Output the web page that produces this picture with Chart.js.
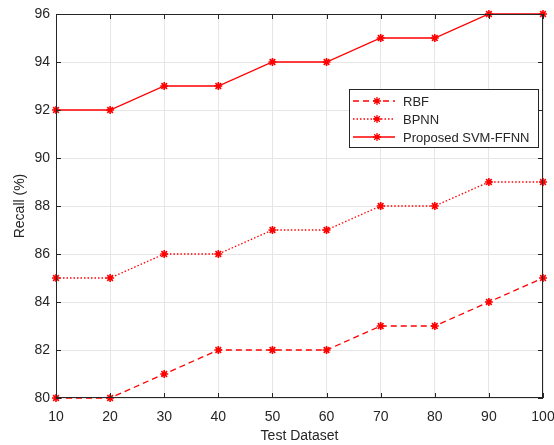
<!DOCTYPE html>
<html>
<head>
<meta charset="utf-8">
<script src="https://cdn.jsdelivr.net/npm/chart.js@4"></script>
<style>
html,body{margin:0;padding:0;background:#fff;}
#wrap{width:554px;height:445px;}
</style>
</head>
<body>
<div id="wrap"><canvas id="c" width="554" height="445"></canvas></div>
<script>
const testDataset = [10, 20, 30, 40, 50, 60, 70, 80, 90, 100];
const rbf = [80, 80, 81, 82, 82, 82, 83, 83, 84, 85];
const bpnn = [85, 85, 86, 86, 87, 87, 88, 88, 89, 89];
const proposed = [92, 92, 93, 93, 94, 94, 95, 95, 96, 96];
const seriesNames = ['RBF', 'BPNN', 'Proposed SVM-FFNN'];
const xTitle = 'Test Dataset';
const yTitle = 'Recall (%)';

const FONT = 'Arial, "Liberation Sans", Helvetica, sans-serif';
const RED = '#ff0000';
const AXC = '#262626';

function pts(arr){ return arr.map((v,i)=>({x:testDataset[i], y:v})); }
function ds(label, data, dash){
  return {label, data: pts(data), borderColor: RED, backgroundColor: RED,
    borderWidth: 1.3, borderDash: dash, pointStyle: 'star', pointRadius: 4,
    pointBorderWidth: 1.6, pointBorderColor: RED, pointBackgroundColor: RED,
    tension: 0, clip: false};
}

const framePlugin = {
  id: 'frame',
  afterDraw(chart){
    const {ctx, chartArea: a, scales} = chart;
    ctx.save();
    ctx.strokeStyle = AXC; ctx.lineWidth = 1;
    ctx.strokeRect(a.left+0.5, a.top+0.5, a.right-a.left-1, a.bottom-a.top-1);
    const tl = 5;
    ctx.beginPath();
    scales.x.ticks.forEach(t=>{
      const px = Math.round(scales.x.getPixelForValue(t.value))+0.5;
      ctx.moveTo(px, a.bottom); ctx.lineTo(px, a.bottom-tl);
      ctx.moveTo(px, a.top); ctx.lineTo(px, a.top+tl);
    });
    scales.y.ticks.forEach(t=>{
      const py = Math.round(scales.y.getPixelForValue(t.value))+0.5;
      ctx.moveTo(a.left, py); ctx.lineTo(a.left+tl, py);
      ctx.moveTo(a.right, py); ctx.lineTo(a.right-tl, py);
    });
    ctx.stroke();
    ctx.fillStyle = AXC;
    ctx.font = '14px ' + FONT;
    ctx.textAlign = 'center'; ctx.textBaseline = 'middle';
    ctx.fillText(xTitle, (a.left+a.right)/2, 436);
    ctx.save();
    ctx.translate(20, (a.top+a.bottom)/2);
    ctx.rotate(-Math.PI/2);
    ctx.fillText(yTitle, 0, 0);
    ctx.restore();
    const bx = 349.5, by = 89.5, bw = 189, bh = 58;
    ctx.fillStyle = '#fff';
    ctx.fillRect(bx, by, bw, bh);
    ctx.strokeStyle = AXC; ctx.lineWidth = 1;
    ctx.strokeRect(bx, by, bw, bh);
    const rows = [101, 119, 137];
    chart.data.datasets.forEach((d, i)=>{
      const y = rows[i];
      ctx.strokeStyle = RED; ctx.lineWidth = 1.3;
      ctx.setLineDash(d.borderDash || []);
      ctx.beginPath(); ctx.moveTo(353, y); ctx.lineTo(395, y); ctx.stroke();
      ctx.setLineDash([]);
      ctx.fillStyle = RED;
      Chart.helpers.drawPoint(ctx, {pointStyle:'star', radius:4, borderWidth:1.6}, 377, y);
      ctx.fillStyle = AXC;
      ctx.font = '13px ' + FONT;
      ctx.textAlign = 'left'; ctx.textBaseline = 'middle';
      ctx.fillText(d.label, 403, y+1);
    });
    ctx.restore();
  }
};

new Chart(document.getElementById('c'), {
  type: 'line',
  data: { datasets: [
    ds(seriesNames[0], rbf, [6,4]),
    ds(seriesNames[1], bpnn, [1.5,2]),
    ds(seriesNames[2], proposed, [])
  ]},
  options: {
    responsive: false, animation: false,
    layout: { padding: { top: 14, right: 11, left: 0, bottom: 0 } },
    plugins: { legend: { display: false }, tooltip: { enabled: false } },
    scales: {
      x: { type: 'linear', min: 10, max: 100,
        ticks: { stepSize: 10, color: AXC, font: { family: FONT, size: 14 }, padding: 11, maxRotation: 0 },
        grid: { color: '#e6e6e6', drawTicks: false, lineWidth: 1 },
        border: { display: false },
        afterFit(s){ s.height = 47; s.paddingLeft = 0; s.paddingRight = 0; } },
      y: { min: 80, max: 96,
        ticks: { stepSize: 2, color: AXC, font: { family: FONT, size: 14 }, padding: 6 },
        grid: { color: '#e6e6e6', drawTicks: false, lineWidth: 1 },
        border: { display: false },
        afterFit(s){ s.width = 56; s.paddingTop = 0; s.paddingBottom = 0; } }
    }
  },
  plugins: [framePlugin]
});
</script>
</body>
</html>
